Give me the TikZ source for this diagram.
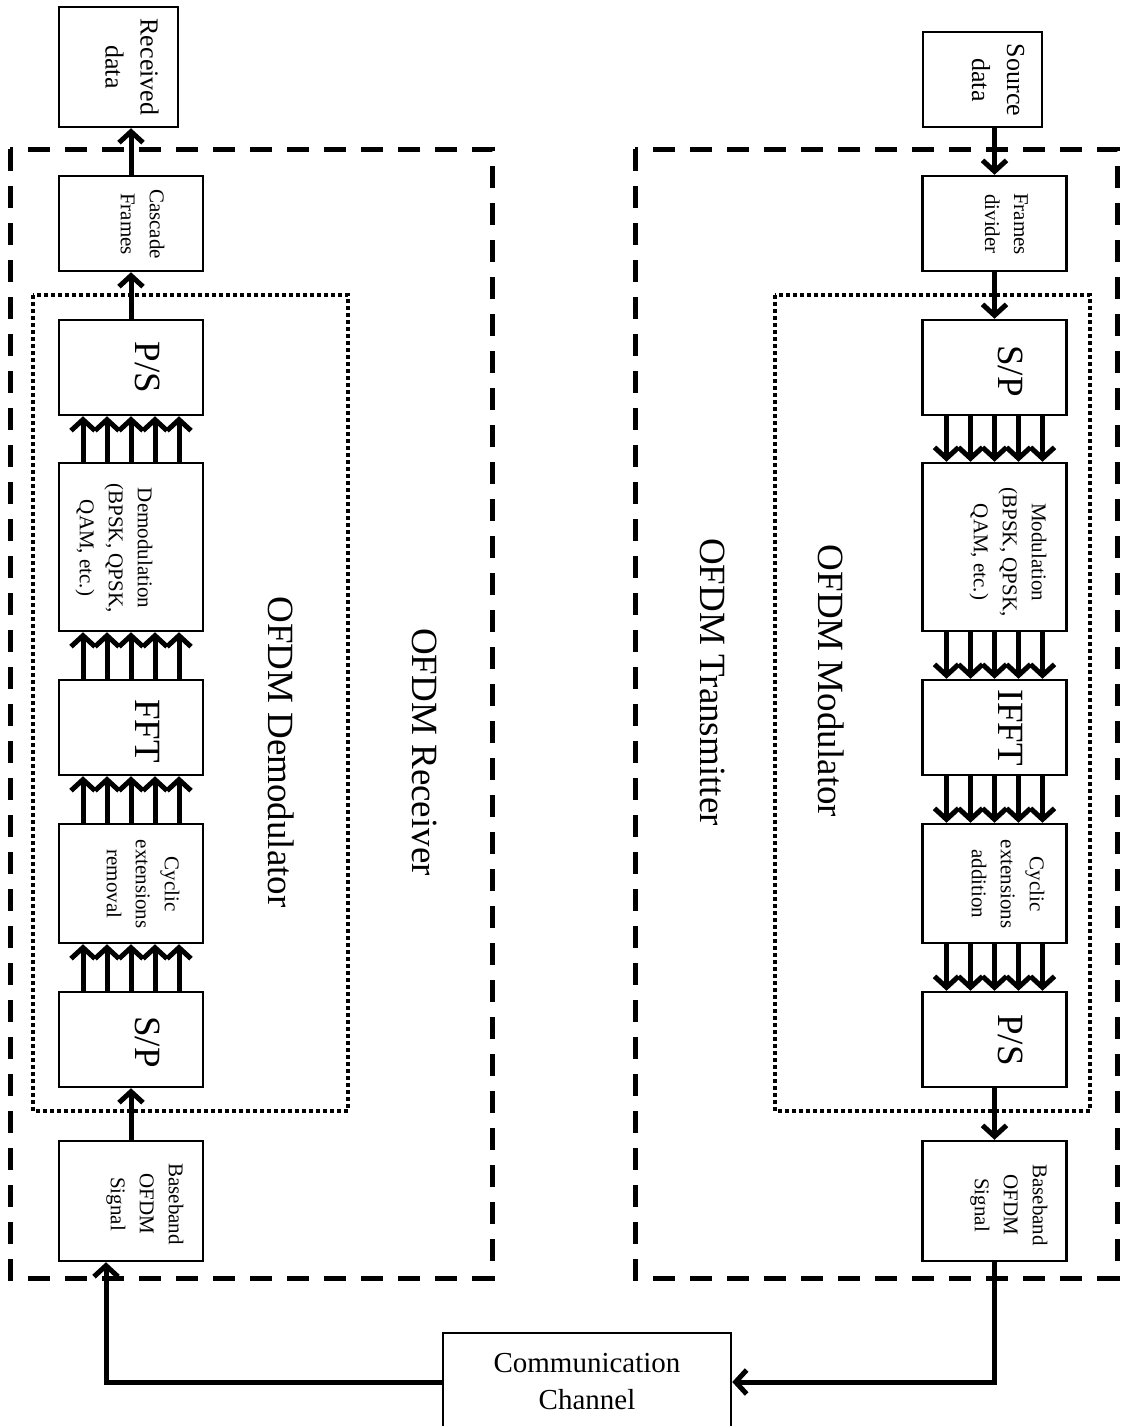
\documentclass[tikz,border=0pt]{standalone}
\usepackage{fontspec}
\setmainfont{Liberation Serif}
\usetikzlibrary{arrows.meta}

\tikzset{
    blk/.style={draw, line width=2.5pt, minimum width=144pt, minimum height=95pt, inner sep=0pt},
    vtxt/.style={rotate=-90, align=center, inner sep=0pt, font=\fontsize{21}{29}\selectfont},
    vmid/.style={vtxt, font=\fontsize{26}{35}\selectfont},
    vbig/.style={rotate=-90, anchor=base, inner sep=0pt, font=\fontsize{37}{44}\selectfont},
    arr/.style={line width=5pt, -{Straight Barb[length=11pt,width=24pt]}},
    outerbox/.style={line width=5pt, dash pattern={on 22pt off 15pt}},
    innerbox/.style={line width=4pt, dash pattern={on 4pt off 3pt}},
}

\begin{document}
\begin{tikzpicture}[x=1pt,y=-1pt]
    \useasboundingbox (0,0) rectangle (1128,1426);

    % Dashed and dotted frames
    \draw[outerbox] (10,149) rectangle (492,1278);
    \draw[outerbox] (635,149) rectangle (1117,1278);
    \draw[innerbox] (33,295) rectangle (348,1111);
    \draw[innerbox] (775,295) rectangle (1090,1111);

    % Receiver blocks
    \node[blk, minimum width=119pt, minimum height=120pt] (recv) at (118.5,67) {};
    \node[blk] (casc) at (131,223.5) {};
    \node[blk] (psR) at (131,367.5) {};
    \node[blk, minimum height=168pt] (demod) at (131,547) {};
    \node[blk] (fft) at (131,727.5) {};
    \node[blk, minimum height=119pt] (cycR) at (131,883.5) {};
    \node[blk] (spR) at (131,1039.5) {};
    \node[blk, minimum height=120pt] (bbR) at (131,1201) {};

    % Transmitter blocks
    \node[blk, minimum width=119pt] (src) at (982.5,79.5) {};
    \node[blk] (frm) at (994.5,223.5) {};
    \node[blk] (spT) at (994.5,367.5) {};
    \node[blk, minimum height=168pt] (mod) at (994.5,547) {};
    \node[blk] (ifft) at (994.5,727.5) {};
    \node[blk, minimum height=119pt] (cycT) at (994.5,883.5) {};
    \node[blk] (psT) at (994.5,1039.5) {};
    \node[blk, minimum height=120pt] (bbT) at (994.5,1201) {};

    % Channel
    \node[blk, minimum width=288pt, minimum height=98pt, align=center, font=\fontsize{29}{37}\selectfont] (chan) at (587,1382) {Communication\\Channel};

    % Text Node
    \node[vmid] (recvTxt) at (132,67) {Received\\data};
    \node[vtxt] (cascTxt) at (142.5,224) {Cascade\\Frames};
    \node[vbig] (psRTxt) at (135,367.5) {P/S};
    \node[vtxt] (demodTxt) at (114,548) {Demodulation\\(BPSK, QPSK,\\QAM, etc.)};
    \node[vbig] (fftTxt) at (135,731) {FFT};
    \node[vtxt] (cycRTxt) at (143,884) {Cyclic\\extensions\\removal};
    \node[vbig] (spRTxt) at (135,1042) {S/P};
    \node[vtxt] (bbRTxt) at (145,1204) {Baseband\\OFDM\\Signal};

    \node[vmid] (srcTxt) at (998,80) {Source\\data};
    \node[vtxt] (frmTxt) at (1006.5,224) {Frames\\divider};
    \node[vbig] (spTTxt) at (998,371) {S/P};
    \node[vtxt] (modTxt) at (1008,552) {Modulation\\(BPSK, QPSK,\\QAM, etc.)};
    \node[vbig] (ifftTxt) at (998,728) {IFFT};
    \node[vtxt] (cycTTxt) at (1008,884) {Cyclic\\extensions\\addition};
    \node[vbig] (psTTxt) at (998,1040) {P/S};
    \node[vtxt] (bbTTxt) at (1009,1205) {Baseband\\OFDM\\Signal};

    \node[vbig] (demodLbl) at (268,752) {OFDM Demodulator};
    \node[vbig] (recvLbl) at (412,752) {OFDM Receiver};
    \node[vbig] (txLbl) at (700,682) {OFDM Transmitter};
    \node[vbig] (modLbl) at (818,681) {OFDM Modulator};

    % Receiver arrows
    \draw[arr] (bbR.north) -- (spR.south);
    \foreach \dx in {-48,-24,0,24,48} {
        \draw[arr] ([xshift=\dx]spR.north) -- ([xshift=\dx]cycR.south);
        \draw[arr] ([xshift=\dx]cycR.north) -- ([xshift=\dx]fft.south);
        \draw[arr] ([xshift=\dx]fft.north) -- ([xshift=\dx]demod.south);
        \draw[arr] ([xshift=\dx]demod.north) -- ([xshift=\dx]psR.south);
    }
    \draw[arr] (psR.north) -- (casc.south);
    \draw[arr] (casc.north) -- (casc.north |- recv.south);

    % Transmitter arrows
    \draw[arr] (frm.north |- src.south) -- (frm.north);
    \draw[arr] (frm.south) -- (spT.north);
    \foreach \dx in {-48,-24,0,24,48} {
        \draw[arr] ([xshift=\dx]spT.south) -- ([xshift=\dx]mod.north);
        \draw[arr] ([xshift=\dx]mod.south) -- ([xshift=\dx]ifft.north);
        \draw[arr] ([xshift=\dx]ifft.south) -- ([xshift=\dx]cycT.north);
        \draw[arr] ([xshift=\dx]cycT.south) -- ([xshift=\dx]psT.north);
    }
    \draw[arr] (psT.south) -- (bbT.north);

    % Through the channel
    \draw[arr] (bbT.south) |- (chan.east);
    \draw[arr] (chan.west) -| ([xshift=-25]bbR.south);

\end{tikzpicture}
\end{document}
